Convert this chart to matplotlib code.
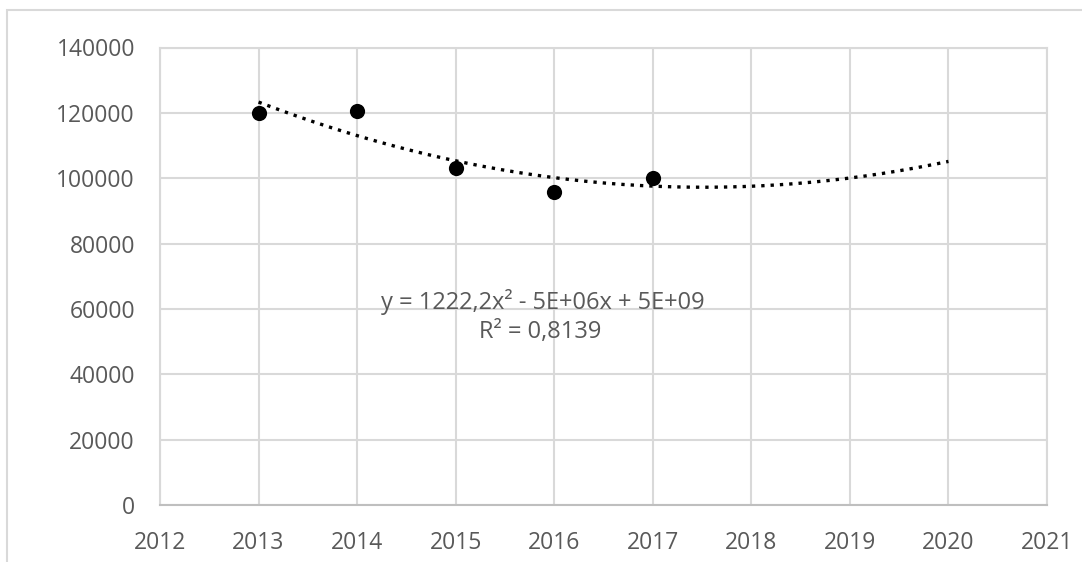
import numpy as np
import matplotlib
matplotlib.use("Agg")
import matplotlib.pyplot as plt
from matplotlib.patches import Rectangle

years = [2013, 2014, 2015, 2016, 2017]
values = [119900, 120600, 103000, 95700, 100200]
x_ticks = [2012, 2013, 2014, 2015, 2016, 2017, 2018, 2019, 2020, 2021]
y_ticks = [0, 20000, 40000, 60000, 80000, 100000, 120000, 140000]
trend_range = [2013, 2020]
eq_text = "y = 1222,2x² - 5E+06x + 5E+09"
r2_text = "R² = 0,8139"

plt.rcParams['font.family'] = ['Open Sans', 'DejaVu Sans']
txt_color = '#595959'
grid_color = '#d9d9d9'

fig = plt.figure(figsize=(10.82, 5.62), dpi=100)
fig.patches.append(Rectangle((7/1082, -0.1), 1.2, (562-10)/562 + 0.1,
                             transform=fig.transFigure, fill=False,
                             edgecolor='#d9d9d9', linewidth=1.5))
ax = fig.add_axes([160/1082, (562-505)/562, (1047-160)/1082, (505-47.5)/562])

ax.scatter(years, values, s=120, color='black', zorder=3, linewidths=0)

# polynomial trendline (order 2), fitted to the data
xc = np.array(years, dtype=float) - 2015
coef = np.polyfit(xc, values, 2)
xt = np.linspace(trend_range[0], trend_range[1], 200)
yt = np.polyval(coef, xt - 2015)
ax.plot(xt, yt, color='black', linewidth=2.4, linestyle=(0, (1, 1.8)),
        dash_capstyle='butt', zorder=4)

ax.set_xlim(x_ticks[0], x_ticks[-1])
ax.set_ylim(y_ticks[0], y_ticks[-1])
ax.set_xticks(x_ticks)
ax.set_yticks(y_ticks)
ax.set_xticklabels([str(v) for v in x_ticks])
ax.set_yticklabels([str(v) for v in y_ticks])
ax.tick_params(length=0, labelsize=16.5, labelcolor=txt_color)
ax.tick_params(axis='y', pad=18)
ax.tick_params(axis='x', pad=19)
ax.grid(True, color=grid_color, linewidth=1.5, zorder=0)
ax.set_axisbelow(True)
for side in ['top', 'right', 'left']:
    ax.spines[side].set_color(grid_color)
    ax.spines[side].set_linewidth(1.5)
ax.spines['bottom'].set_color('#bfbfbf')
ax.spines['bottom'].set_linewidth(1.5)

ax.text(2015.88, 62200, eq_text, ha='center', va='center', fontsize=17, color=txt_color)
ax.text(2015.86, 52800, r2_text, ha='center', va='center', fontsize=17, color=txt_color)

fig.savefig('out.png', dpi=100)
